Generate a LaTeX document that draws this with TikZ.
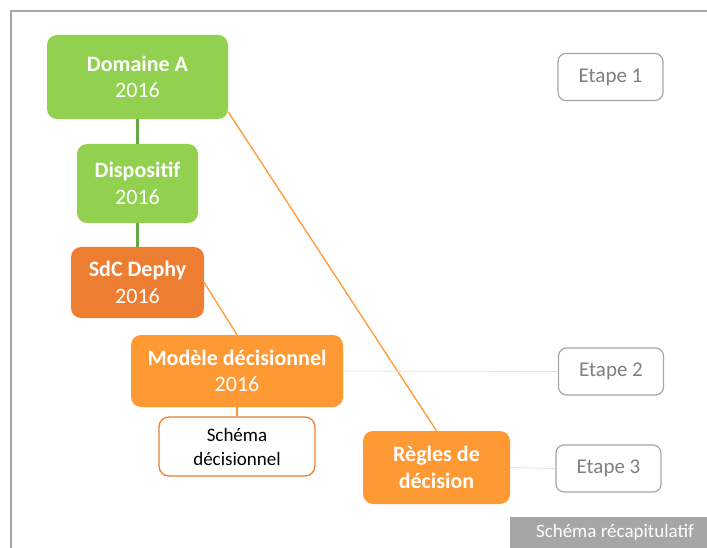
\documentclass[tikz,border=0pt]{standalone}
\usepackage{fontspec}
\setmainfont{Carlito}
\usepackage{tikz}
\usetikzlibrary{positioning}

\definecolor{vert}{RGB}{146,208,80}
\definecolor{vertfonce}{RGB}{104,168,68}
\definecolor{orangefonce}{RGB}{237,125,49}
\definecolor{orangeclair}{RGB}{255,153,51}
\definecolor{gris}{RGB}{166,166,166}
\definecolor{gristexte}{RGB}{127,127,127}
\definecolor{grisligne}{RGB}{225,225,225}

\begin{document}
\begin{tikzpicture}[x=1pt,y=-1pt,
  boite/.style={rounded corners=10pt,text=white,align=center,inner sep=0pt,font=\fontsize{22}{26.5}\selectfont},
  etape/.style={draw=gris,line width=1.2pt,rounded corners=8pt,text=gristexte,minimum width=105pt,minimum height=47pt,font=\fontsize{21}{25}\selectfont},
  lienvert/.style={draw=vertfonce,line width=2.2pt},
  lienorange/.style={draw=orangeclair,line width=1.3pt},
  liengris/.style={draw=grisligne,line width=0.8pt}]
\useasboundingbox (0,0) rectangle (707,548);
% cadre
\draw[gris,line width=2pt] (11,548) -- (11,11) -- (707,11);
% boites
\node[boite,fill=vert,minimum width=181pt,minimum height=84pt] (da) at (137.5,77) {\textbf{Domaine A}\\2016};
\node[boite,fill=vert,minimum width=121pt,minimum height=79pt] (dp) at (137.5,183.5) {\textbf{Dispositif}\\2016};
\node[boite,fill=orangefonce,minimum width=133pt,minimum height=71pt] (sdc) at (137.5,282.5) {\textbf{SdC Dephy}\\2016};
\node[boite,fill=orangeclair,minimum width=212pt,minimum height=72pt] (mo) at (237,371) {\textbf{Modèle décisionnel}\\2016};
\node[boite,draw=orangefonce,line width=1.3pt,fill=white,text=black,minimum width=156pt,minimum height=59pt,font=\fontsize{19}{24}\selectfont] (sch) at (237,446.5) {Schéma\\décisionnel};
\node[boite,fill=orangeclair,minimum width=147pt,minimum height=73pt] (rd) at (436.5,467.5) {\textbf{Règles de}\\\textbf{décision}};
% etapes
\node[etape] (e1) at (610.5,77) {Etape 1};
\node[etape] (e2) at (611,371.5) {Etape 2};
\node[etape] (e3) at (608.5,468.5) {Etape 3};
% liens
\draw[lienvert] (da) -- (dp);
\draw[lienvert] (dp) -- (sdc);
\draw[lienorange] (sdc.east) -- (mo.north);
\draw[lienorange] (da.-21) -- (rd.north);
\draw[lienorange] (mo) -- (sch);
\draw[liengris] (mo.east) -- (e2.west);
\draw[liengris] (rd.east) -- (e3.west);
% legende
\fill[gris] (510,517) rectangle (707,548);
\node[text=white,font=\fontsize{19}{23}\selectfont] (leg) at (615,532.5) {Schéma récapitulatif};
\end{tikzpicture}
\end{document}
